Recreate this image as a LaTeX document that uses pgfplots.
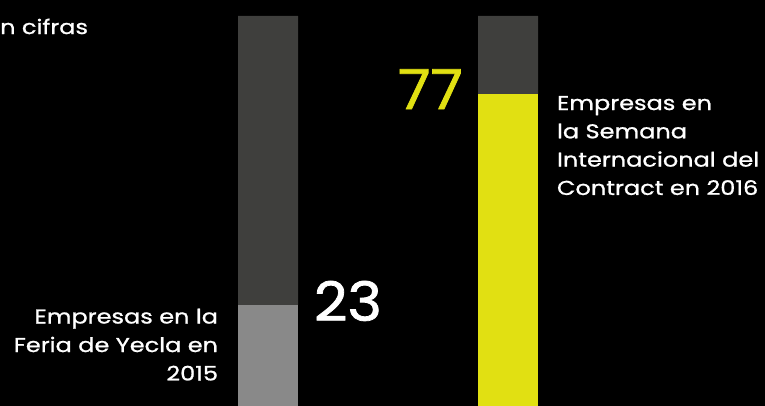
\documentclass[border=0pt]{standalone}
\usepackage{pgfplots}
\pgfplotsset{compat=1.18}
\usepackage{fontspec}
\setmainfont{Poppins}
\newfontfamily\lblfont{Poppins}[FakeStretch=1.2,FakeBold=1.0]
\newfontfamily\numfont{Poppins}[FakeStretch=1.08,FakeBold=1.4]
\definecolor{dg}{RGB}{63,63,61}
\definecolor{lg}{RGB}{137,137,137}
\definecolor{yel}{RGB}{225,224,18}
\begin{document}
\begin{tikzpicture}
\fill[black] (0,0) rectangle (765bp,406bp);
\begin{axis}[at={(0,0)},anchor=south west,scale only axis,
  width=765bp,height=406bp,xmin=0,xmax=765,ymin=0,ymax=104.1,
  hide axis,ybar stacked,bar width=60]
\addplot[fill=lg,draw=none] coordinates {(268,25.9) (508,0)};
\addplot[fill=yel,draw=none] coordinates {(268,0) (508,80.0)};
\addplot[fill=dg,draw=none] coordinates {(268,74.1) (508,20.0)};
\end{axis}
\begin{scope}
\clip (0,0) rectangle (765bp,406bp);
\begin{scope}[x=1bp,y=1bp,every node/.style={inner sep=0pt,outer sep=0pt,text=white}]
\node[anchor=base east,font=\lblfont\fontsize{20bp}{24bp}\selectfont] at (88,372) {en cifras};
\node[anchor=base west,font=\numfont\fontsize{55bp}{60bp}\selectfont,text=yel] at (398,297) {77};
\node[anchor=base west,font=\numfont\fontsize{54bp}{60bp}\selectfont] at (314,85.3) {23};
\begin{scope}[every node/.append style={font=\lblfont\fontsize{20bp}{24bp}\selectfont}]
\node[anchor=base east] at (218,82.5) {Empresas en la};
\node[anchor=base east] at (218,54) {Feria de Yecla en};
\node[anchor=base east] at (218,25.5) {2015};
\node[anchor=base west] at (557,296) {Empresas en};
\node[anchor=base west] at (557,267.7) {la Semana};
\node[anchor=base west] at (557,239.4) {Internacional del};
\node[anchor=base west] at (557,211.1) {Contract en 2016};
\end{scope}
\end{scope}
\end{scope}
\end{tikzpicture}
\end{document}
